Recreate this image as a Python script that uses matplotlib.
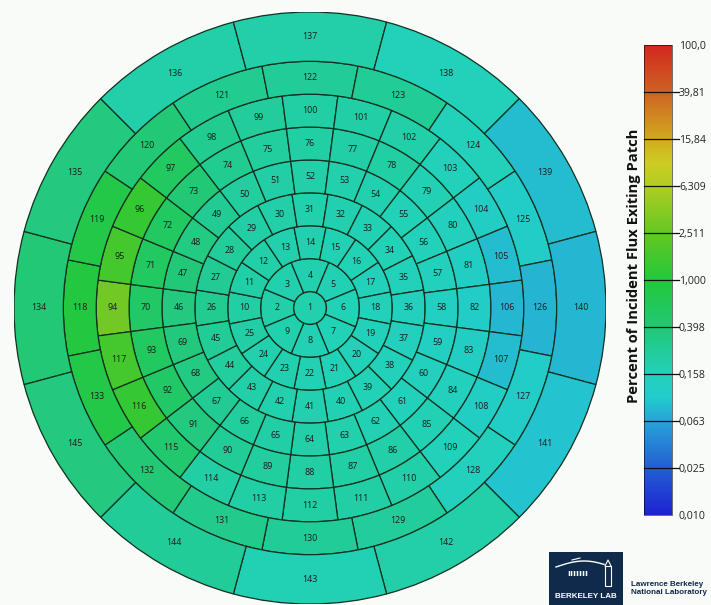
import numpy as np
import matplotlib
matplotlib.use("Agg")
import matplotlib.pyplot as plt
from matplotlib.patches import Wedge, Circle, Rectangle
from matplotlib.colors import LinearSegmentedColormap, LogNorm
from matplotlib.cm import ScalarMappable

# Klems full basis: patches per ring and ring edges (incidence angle, degrees)
ring_counts = [1, 8, 16, 20, 24, 24, 24, 16, 12]
ring_edges = [0, 5, 15, 25, 35, 45, 55, 65, 75, 90]

# percent of incident flux exiting each patch, patch 1..145
flux = [
    0.19,
    0.20, 0.19, 0.18, 0.17, 0.16, 0.16, 0.17, 0.19,
    0.22, 0.21, 0.20, 0.19, 0.18, 0.17, 0.16, 0.15,
    0.15, 0.15, 0.15, 0.16, 0.17, 0.18, 0.19, 0.21,
    0.28, 0.27, 0.24, 0.21, 0.20, 0.19, 0.18, 0.17, 0.16, 0.15,
    0.14, 0.14, 0.15, 0.16, 0.17, 0.18, 0.19, 0.20, 0.23, 0.26,
    0.35, 0.38, 0.33, 0.27, 0.23, 0.21, 0.20, 0.19, 0.18, 0.16, 0.15, 0.14,
    0.13, 0.13, 0.14, 0.15, 0.17, 0.19, 0.20, 0.21, 0.23, 0.27, 0.33, 0.36,
    0.50, 0.55, 0.55, 0.40, 0.28, 0.23, 0.22, 0.21, 0.22, 0.17, 0.14, 0.12,
    0.11, 0.12, 0.14, 0.17, 0.20, 0.22, 0.22, 0.23, 0.26, 0.35, 0.50, 0.55,
    3.0, 1.6, 1.3, 0.55, 0.28, 0.24, 0.22, 0.21, 0.20, 0.15, 0.12, 0.085,
    0.08, 0.085, 0.12, 0.15, 0.20, 0.22, 0.22, 0.22, 0.22, 0.45, 1.3, 1.6,
    0.9, 0.8, 0.4, 0.28, 0.25, 0.26, 0.15, 0.11,
    0.075, 0.11, 0.14, 0.24, 0.25, 0.30, 0.40, 0.8,
    0.4, 0.35, 0.2, 0.2, 0.15, 0.085, 0.08, 0.09, 0.2, 0.17, 0.25, 0.35,
]

cbar_ticks = [0.01, 0.0251, 0.0631, 0.158, 0.398, 1.0, 2.511, 6.309, 15.84, 39.81, 100.0]
cbar_labels = ["0,010", "0,025", "0,063", "0,158", "0,398", "1,000",
               "2,511", "6,309", "15,84", "39,81", "100,0"]

cmap = LinearSegmentedColormap.from_list("flux", [
    (0.00, "#1e22d2"), (0.10, "#2360d2"), (0.20, "#28a4d8"), (0.25, "#22cccc"),
    (0.30, "#22d2b8"), (0.35, "#22cc98"), (0.40, "#22c874"), (0.50, "#23c83a"),
    (0.60, "#64c823"), (0.70, "#afcd23"), (0.75, "#cdcd23"), (0.80, "#d2aa1e"),
    (0.90, "#cd6423"), (1.00, "#d2281e"),
])
norm = LogNorm(vmin=0.01, vmax=100)

W, H = 711, 605
bg = "#f9fbf9"
fig = plt.figure(figsize=(W / 100, H / 100), dpi=100, facecolor=bg)

cx, cy, R = 310, 308, 296
ax = fig.add_axes([(cx - R) / W, (H - cy - R) / H, 2 * R / W, 2 * R / H])
ax.set_xlim(-90, 90); ax.set_ylim(-90, 90)
ax.set_aspect("equal"); ax.axis("off")

edge = "#12301f"
k = 0
for ring, n in enumerate(ring_counts):
    r0, r1 = ring_edges[ring], ring_edges[ring + 1]
    for j in range(n):
        c = cmap(norm(flux[k]))
        if n == 1:
            ax.add_patch(Circle((0, 0), r1, facecolor=c, edgecolor=edge, lw=0.9))
            tx, ty = 0, 0
        else:
            step = 360 / n
            mid = 180 - j * step
            ax.add_patch(Wedge((0, 0), r1, mid - step / 2, mid + step / 2, width=r1 - r0,
                               facecolor=c, edgecolor=edge, lw=0.9))
            rm = (r0 + r1) / 2
            tx, ty = rm * np.cos(np.radians(mid)), rm * np.sin(np.radians(mid))
        ax.text(tx, ty, str(k + 1), ha="center", va="center", fontsize=6.4,
                family="Open Sans", color="#1b1b1b")
        k += 1

# colorbar
cax = fig.add_axes([644 / W, (H - 515) / H, 28 / W, 470 / H])
cb = fig.colorbar(ScalarMappable(norm=norm, cmap=cmap), cax=cax, ticks=cbar_ticks)
cb.outline.set_linewidth(0.4)
cax.minorticks_off()
cax.set_yticks(cbar_ticks)
cax.set_yticklabels(cbar_labels)
cax.tick_params(length=0, pad=5, labelsize=7.6)
for t in cax.get_yticklabels():
    t.set_family("Open Sans"); t.set_color("#222222")
for v in cbar_ticks[1:-1]:
    cax.axhline(v, xmin=0, xmax=1.25, color="#111111", lw=0.9, clip_on=False)
fig.text(634 / W, 1 - 266 / H, "Percent of Incident Flux Exiting Patch", rotation=90,
         ha="center", va="center", fontsize=10.6, fontweight="bold", family="Open Sans",
         color="#111111")

# logo
lax = fig.add_axes([0, 0, 1, 1], facecolor="none")
lax.set_xlim(0, W); lax.set_ylim(H, 0); lax.axis("off")
navy = "#0f2a4a"
lax.add_patch(Rectangle((549, 552), 74, 53, facecolor=navy, edgecolor="none"))
arc_x = np.linspace(556, 604, 40)
lax.plot(arc_x, 567 - 6 * np.sin(np.pi * (arc_x - 556) / 56), color="white", lw=1)
lax.plot([572, 580], [560, 558], color="white", lw=0.8)
lax.text(578, 574, "ııııııı", color="white", fontsize=6, ha="center", va="center", fontweight="bold")
lax.add_patch(Rectangle((605, 566), 6, 20, facecolor="none", edgecolor="white", lw=0.8))
lax.plot([605, 608, 611], [566, 560, 566], color="white", lw=0.8)
lax.text(586, 597, "BERKELEY LAB", color="white", fontsize=5.8, ha="center", va="center",
         fontweight="bold", family="Liberation Sans")
lax.text(631, 588, "Lawrence Berkeley\nNational Laboratory", color=navy, fontsize=5.8,
         ha="left", va="center", fontweight="bold", family="Liberation Sans", linespacing=1.2)

fig.savefig("out.png", dpi=100, facecolor=bg)
